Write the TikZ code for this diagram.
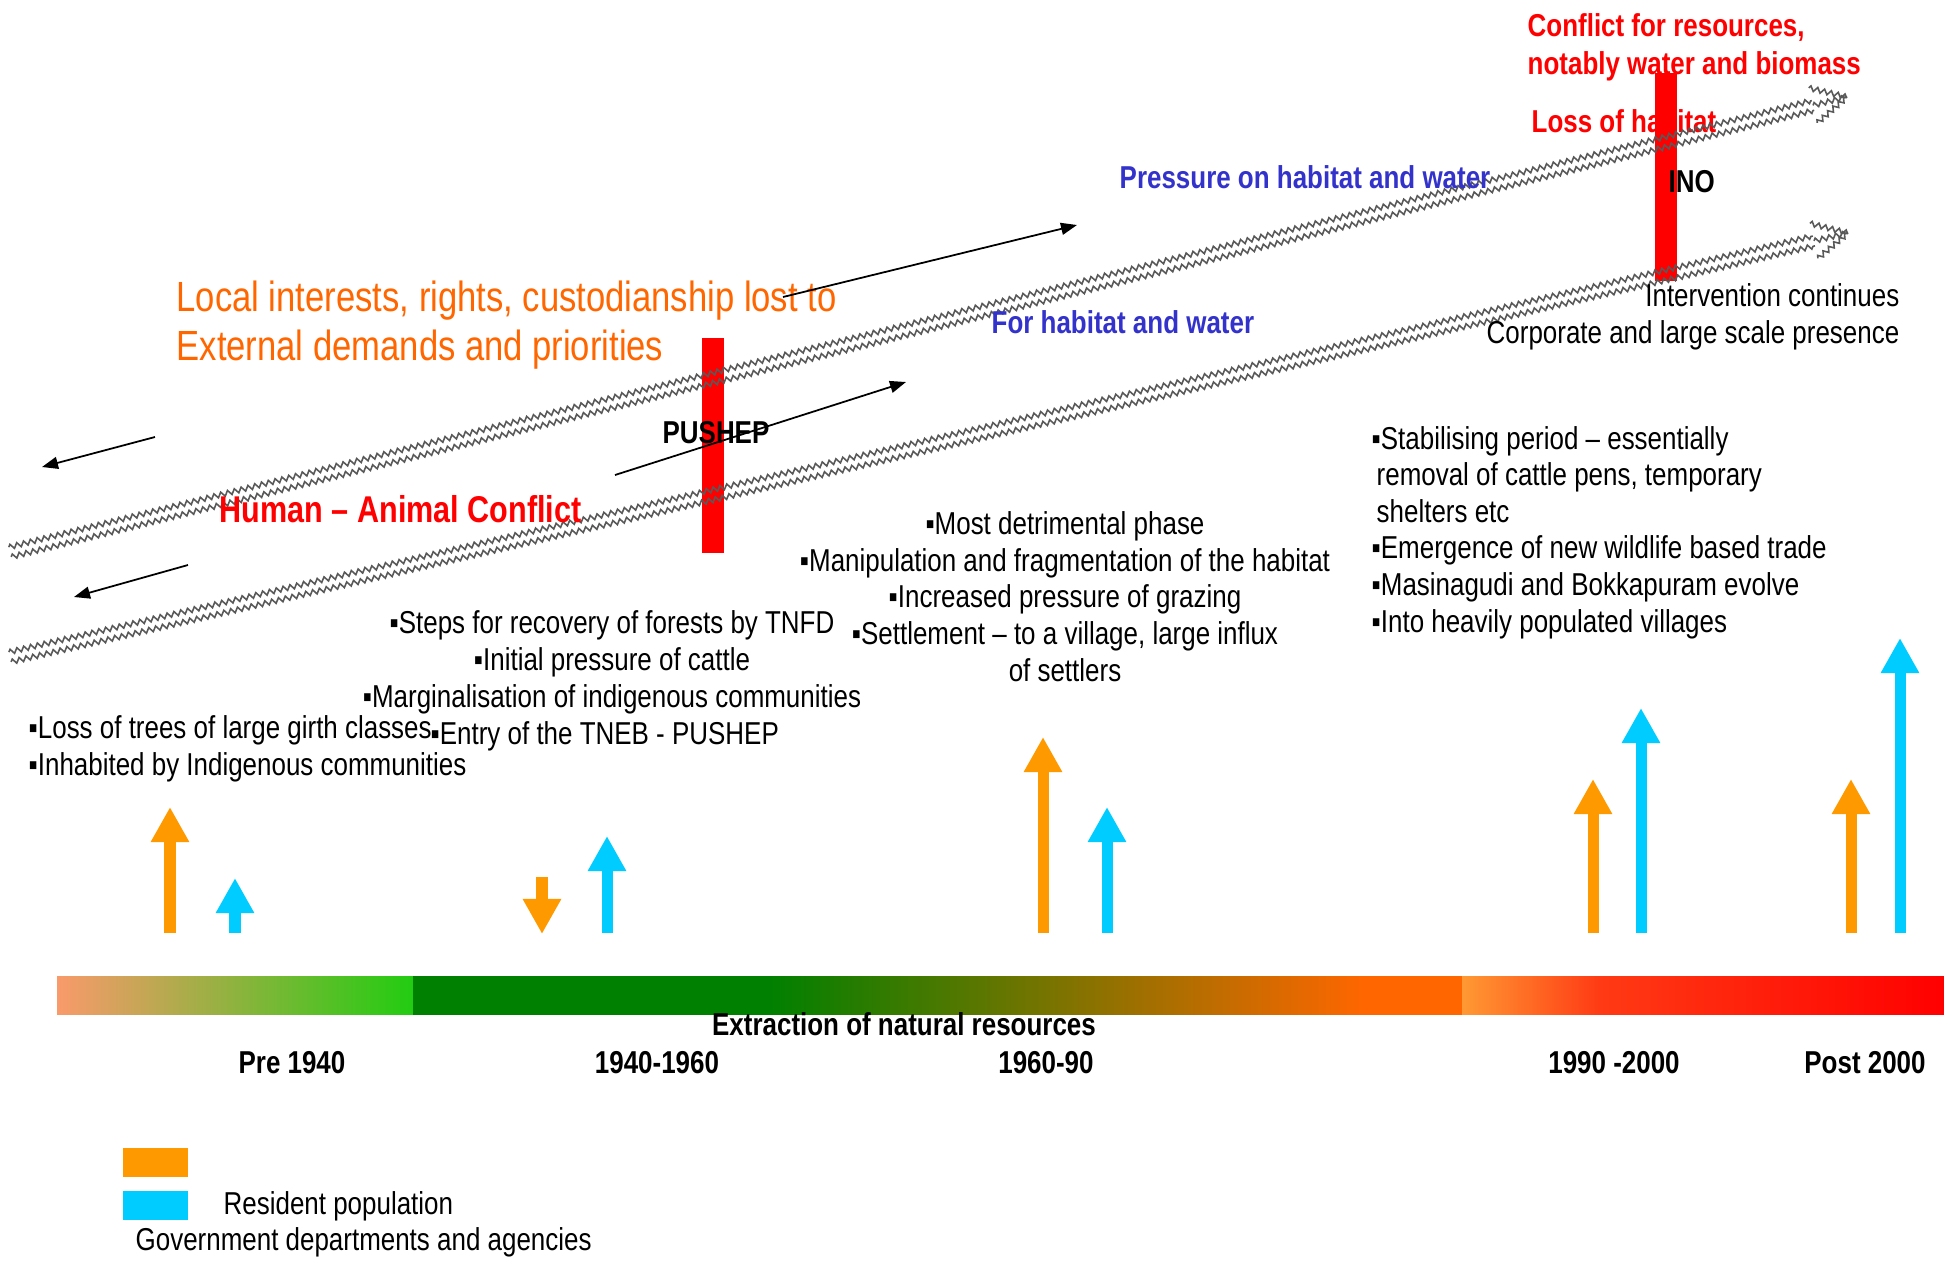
\documentclass[tikz,border=0pt]{standalone}
\usepackage{fontspec}
\setmainfont[FakeStretch=0.82]{Liberation Sans}
\usetikzlibrary{arrows.meta,decorations.pathmorphing}
\definecolor{govorange}{HTML}{FF9900}
\definecolor{rescyan}{HTML}{00CCFF}
\definecolor{lostorange}{HTML}{FF6600}
\definecolor{habblue}{HTML}{3333CC}
\definecolor{alertred}{HTML}{FF0000}
\definecolor{bargreen}{HTML}{008000}
\tikzstyle{bigarrow} = [line width=0.11cm, -{Triangle[length=0.35cm,width=0.36cm]}]
\tikzstyle{thinarrow} = [line width=0.5pt, -{Triangle[length=0.16cm,width=0.12cm]}]
\tikzstyle{zig} = [decorate, decoration={zigzag, segment length=0.07cm, amplitude=0.025cm}, draw=black!65, line width=0.45pt]
\tikzset{note/.style={inner sep=0pt, font=\fontsize{9}{10.4}\selectfont},
  bnote/.style={inner sep=0pt, font=\fontsize{9}{10.6}\selectfont\bfseries},
  redbar/.style={fill=alertred, inner sep=0pt, minimum width=0.22cm, anchor=north west},
  keybox/.style={inner sep=0pt, minimum width=0.65cm, minimum height=0.29cm, anchor=north west}}

\begin{document}
\begin{tikzpicture}[x=0.01cm,y=-0.01cm]
    \useasboundingbox (0,0) rectangle (1944,1266);

    % timeline bar
    \shade[left color={rgb,255:red,249;green,154;blue,107}, right color={rgb,255:red,34;green,204;blue,17}] (57,976) rectangle (413,1014);
    \shade[left color=bargreen, right color=bargreen] (413,976) rectangle (769,1014);
    \shade[left color=bargreen, right color=lostorange] (769,976) rectangle (1364,1014);
    \shade[left color=lostorange, right color=lostorange] (1364,976) rectangle (1462,1014);
    \shade[left color={rgb,255:red,255;green,153;blue,51}, right color={rgb,255:red,255;green,58;blue,20}] (1462,976) rectangle (1600,1014);
    \shade[left color={rgb,255:red,255;green,58;blue,20}, right color=alertred] (1600,976) rectangle (1944,1014);

    \node [bnote, anchor=base] (extraction) at (904,1035) {Extraction of natural resources};
    \node [bnote, anchor=base] (pre1940) at (292,1073) {Pre 1940};
    \node [bnote, anchor=base] (p1940) at (657,1073) {1940-1960};
    \node [bnote, anchor=base] (p1960) at (1046,1073) {1960-90};
    \node [bnote, anchor=base] (p1990) at (1614,1073) {1990 -2000};
    \node [bnote, anchor=base] (post2000) at (1865,1073) {Post 2000};

    % texts under the bars
    \node [note, anchor=base west, text=alertred, font=\fontsize{9}{10.6}\selectfont\bfseries] (losslabel) at (1531,132) {Loss of habitat};
    \node [note, anchor=base west, align=left, text=alertred, font=\fontsize{9}{10.6}\selectfont\bfseries] (conflictlabel) at (1527,74) {Conflict for resources,\\notably water and biomass};

    \node [redbar, minimum height=2.15cm] (pushbar) at (701,337) {};
    \node [redbar, minimum height=2.08cm] (inobar) at (1654,72) {};

    % upper band
    \draw[zig] (11.2,556.9) -- (1814.2,110.3);
    \draw[zig] (8.8,547.2) -- (1811.8,100.6);
    \draw[zig] (1808.7,87.9) -- (1847,97);
    \draw[zig] (1817.3,122.9) -- (1847,97);
    \draw[zig] (1813,105.4) -- (1847,97);
    % lower band
    \draw[zig] (11.1,661.9) -- (1815.0,245.8);
    \draw[zig] (8.9,652.1) -- (1812.8,236.0);
    \draw[zig] (1809.9,223.4) -- (1848,233);
    \draw[zig] (1817.9,258.4) -- (1848,233);
    \draw[zig] (1814,240.9) -- (1848,233);

    \node [note, anchor=base west, align=left, text=lostorange, font=\fontsize{12}{13.9}\selectfont] (lostlabel) at (176,360) {Local interests, rights, custodianship lost to\\External demands and priorities};
    \node [bnote, anchor=base west, text=alertred, font=\fontsize{10.6}{12}\selectfont\bfseries] (humanlabel) at (219,522) {Human – Animal Conflict};
    \node [bnote, anchor=base west, text=habblue] (pressurelabel) at (1119,188) {Pressure on habitat and water};
    \node [bnote, anchor=base west, text=habblue] (forlabel) at (991,333) {For habitat and water};
    \node [bnote, anchor=base] (pushlabel) at (716,443) {PUSHEP};
    \node [bnote, anchor=base west] (inolabel) at (1668,192) {INO};
    \node [note, anchor=base east, align=right] (intervention) at (1900,343) {Intervention continues\\Corporate and large scale presence};

    \coordinate (lostfrom) at (783,297);
    \coordinate (lostto) at (1077,225);
    \coordinate (pushfrom) at (615,475);
    \coordinate (pushto) at (906,382);
    \coordinate (backAfrom) at (155,437);
    \coordinate (backAto) at (42,467);
    \coordinate (backBfrom) at (188,565);
    \coordinate (backBto) at (74,597);
    \draw[thinarrow] (lostfrom) -- (lostto);
    \draw[thinarrow] (pushfrom) -- (pushto);
    \draw[thinarrow] (backAfrom) -- (backAto);
    \draw[thinarrow] (backBfrom) -- (backBto);

    % period notes
    \node [note, anchor=base west, align=left] (pre1940note) at (28,775) {▪Loss of trees of large girth classes\\▪Inhabited by Indigenous communities};
    \node [note, anchor=base, align=center] (p1940note) at (612,707) {▪Steps for recovery of forests by TNFD\\▪Initial pressure of cattle\\▪Marginalisation of indigenous communities};
    \node [note, anchor=base west] (entrynote) at (430,744) {▪Entry of the TNEB - PUSHEP};
    \node [note, anchor=base, align=center] (p1960note) at (1065,681) {▪Most detrimental phase\\▪Manipulation and fragmentation of the habitat\\▪Increased pressure of grazing\\▪Settlement – to a village, large influx\\of settlers};
    \node [note, anchor=base west, align=left] (p1990note) at (1371,632) {▪Stabilising period – essentially\\\hspace*{0.05cm}removal of cattle pens, temporary\\\hspace*{0.05cm}shelters etc\\▪Emergence of new wildlife based trade\\▪Masinagudi and Bokkapuram evolve\\▪Into heavily populated villages};

    % level arrows
    \draw[bigarrow, govorange] (170,933) -- (170,807);
    \draw[bigarrow, rescyan] (235,933) -- (235,878);
    \draw[bigarrow, govorange] (542,877) -- (542,934);
    \draw[bigarrow, rescyan] (607,933) -- (607,836);
    \draw[bigarrow, govorange] (1043,933) -- (1043,737);
    \draw[bigarrow, rescyan] (1107,933) -- (1107,807);
    \draw[bigarrow, govorange] (1593,933) -- (1593,779);
    \draw[bigarrow, rescyan] (1641,933) -- (1641,708);
    \draw[bigarrow, govorange] (1851,933) -- (1851,779);
    \draw[bigarrow, rescyan] (1900,933) -- (1900,638);

    % legend
    \node [keybox, fill=govorange] (keygov) at (122,1147) {};
    \node [keybox, fill=rescyan] (keyres) at (122,1190) {};
    \node [note, anchor=base west] (reslabel) at (223,1214) {Resident population};
    \node [note, anchor=base west] (govlabel) at (135,1250) {Government departments and agencies};
\end{tikzpicture}
\end{document}
